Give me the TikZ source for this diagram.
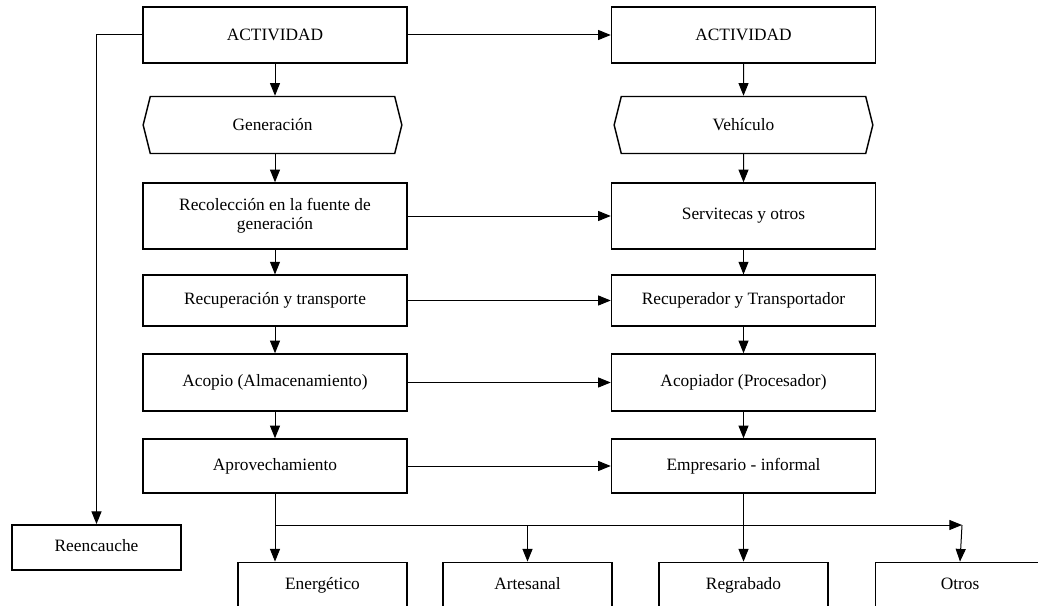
\documentclass[tikz,border=0pt]{standalone}
\usepackage{fontspec}
\setmainfont{Liberation Serif}
\usetikzlibrary{arrows.meta,shapes.symbols}
\begin{document}
\begin{tikzpicture}[x=0.75pt,y=-0.75pt,
  caja/.style={draw, line width=1.1pt, minimum width=198pt, align=center, font=\fontsize{13}{14.5}\selectfont, inner sep=2pt},
  hexa/.style={caja, shape=signal, signal to=west and east, signal pointer angle=152, minimum width=194pt, minimum height=42.75pt},
  baja/.style={caja, minimum width=127pt, minimum height=34pt, text height=9pt, text depth=3pt},
  flecha/.style={line width=0.75pt, -{Triangle[length=9.5pt,width=7.5pt]}}]
\useasboundingbox (0,0) rectangle (1038,606);
\clip (0,0) rectangle (1038,606);
% columna izquierda
\node[caja, minimum height=42pt] (act1) at (275,35) {ACTIVIDAD};
\node[hexa] (gen) at (272.5,125) {Generación};
\node[caja, minimum height=49.5pt] (rec) at (275,216) {Recolección en la fuente de\\ generación};
\node[caja, minimum height=38pt] (recup) at (275,300.5) {Recuperación y transporte};
\node[caja, minimum height=42.75pt] (acop) at (275,382.5) {Acopio (Almacenamiento)};
\node[caja, minimum height=40.5pt] (aprov) at (275,466) {Aprovechamiento};
% columna derecha
\node[caja, minimum height=42pt] (act2) at (743.5,35) {ACTIVIDAD};
\node[hexa] (veh) at (743.5,125) {Vehículo};
\node[caja, minimum height=49.5pt] (serv) at (743.5,216) {Servitecas y otros};
\node[caja, minimum height=38pt] (recupr) at (743.5,300.5) {Recuperador y Transportador};
\node[caja, minimum height=42.75pt] (acopr) at (743.5,382.5) {Acopiador (Procesador)};
\node[caja, minimum height=40.5pt] (empr) at (743.5,466) {Empresario - informal};
% usos
\node[baja] (reen) at (96.5,547.5) {Reencauche};
\node[baja] (ener) at (322.5,585) {Energético};
\node[baja] (art) at (527.5,585) {Artesanal};
\node[baja] (regr) at (743.5,585) {Regrabado};
\node[baja] (otros) at (960,585) {Otros};
\coordinate (bl) at (275,525);
\coordinate (br) at (962,525);
% conectores
\draw[flecha] (act1) -- (act2);
\draw[flecha] (act1.west) -| (reen.north);
\draw[flecha] (act1) -- (act1 |- gen.north);
\draw[flecha] (gen.south -| act1) -- (rec);
\draw[flecha] (rec) -- (recup);
\draw[flecha] (recup) -- (acop);
\draw[flecha] (acop) -- (aprov);
\draw[flecha] (act2) -- (veh);
\draw[flecha] (veh) -- (serv);
\draw[flecha] (serv) -- (recupr);
\draw[flecha] (recupr) -- (acopr);
\draw[flecha] (acopr) -- (empr);
\draw[flecha] (rec) -- (serv);
\draw[flecha] (recup) -- (recupr);
\draw[flecha] (acop) -- (acopr);
\draw[flecha] (aprov) -- (empr);
\draw[flecha] (aprov.south) -- (aprov.south |- ener.north);
\draw[flecha] (bl) -- (br);
\draw[flecha] (bl -| art.north) -- (art.north);
\draw[flecha] (empr) -- (regr);
\draw[flecha] (br) -- (otros.north);
\end{tikzpicture}
\end{document}
